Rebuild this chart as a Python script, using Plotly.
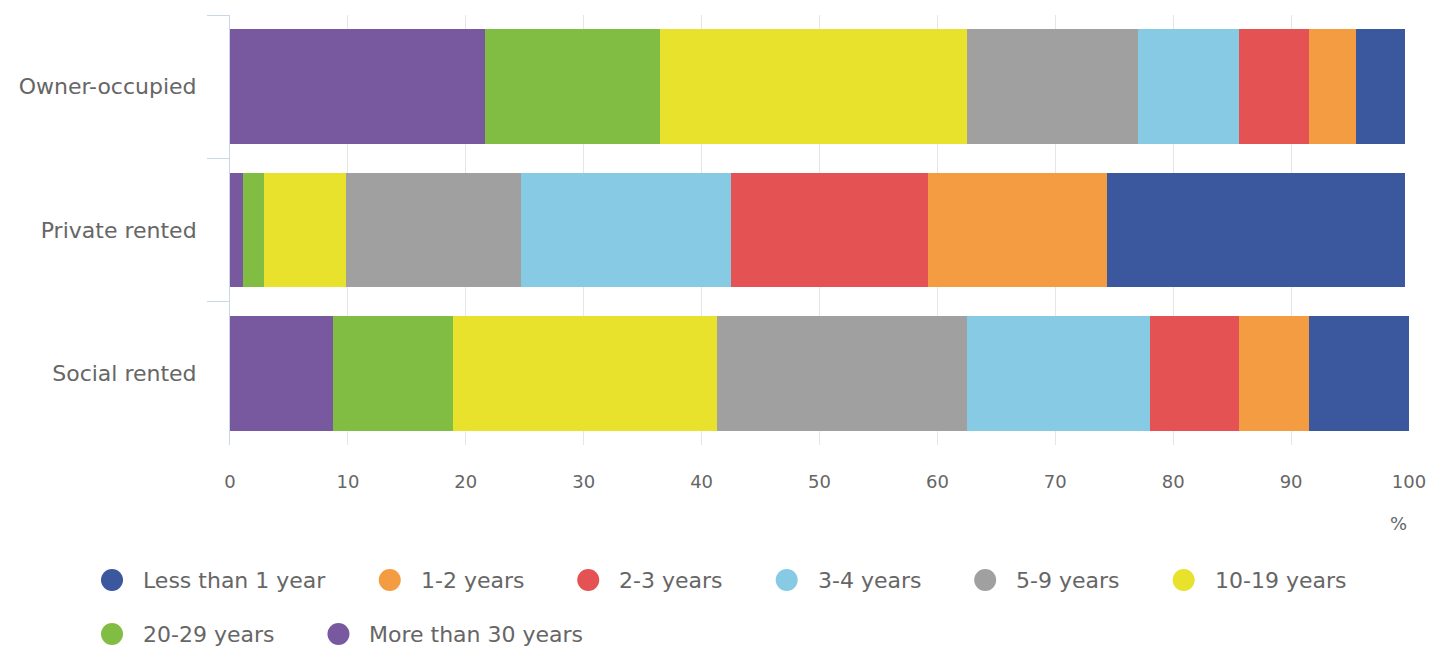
import plotly.graph_objects as go

# Tenure categories (top to bottom) and length-of-residence bands
tenures = ["Owner-occupied", "Private rented", "Social rented"]

series_names = [
    "More than 30 years",
    "20-29 years",
    "10-19 years",
    "5-9 years",
    "3-4 years",
    "2-3 years",
    "1-2 years",
    "Less than 1 year",
]

more_than_30 = [21.6, 1.1, 8.7]
years_20_29 = [14.9, 1.8, 10.2]
years_10_19 = [26.0, 6.9, 22.4]
years_5_9 = [14.5, 14.9, 21.2]
years_3_4 = [8.6, 17.8, 15.5]
years_2_3 = [5.9, 16.7, 7.6]
years_1_2 = [4.0, 15.2, 5.9]
less_than_1 = [4.2, 25.3, 8.5]

series_values = [
    more_than_30, years_20_29, years_10_19, years_5_9,
    years_3_4, years_2_3, years_1_2, less_than_1,
]

colors = {
    "Less than 1 year": "#3b579d",
    "1-2 years": "#f39c42",
    "2-3 years": "#e55253",
    "3-4 years": "#86cbe3",
    "5-9 years": "#a0a0a0",
    "10-19 years": "#e8e22c",
    "20-29 years": "#82bd43",
    "More than 30 years": "#7859a0",
}

legend_rows = [
    ["Less than 1 year", "1-2 years", "2-3 years", "3-4 years",
     "5-9 years", "10-19 years"],
    ["20-29 years", "More than 30 years"],
]

x_ticks = list(range(0, 101, 10))

W, H = 1434, 654
ML, MR, MT, MB = 230, 25, 15, 209
PW, PH = W - ML - MR, H - MT - MB

FONT = "DejaVu Sans"
TXT = "#666666"
LABEL_SIZE = 22
TICK_SIZE = 18

# Legend layout in pixels
LEG_ROW_Y = [580, 634]
LEG_LEFT = 101
LEG_D = 22          # marker diameter
LEG_TEXT_OFF = 40   # marker left edge to text start
LEG_GAP = 55        # text end to next marker

# DejaVu Sans advance widths (units per 2048 em) for text measuring
_ADV = {" ": 651, "-": 739, "L": 1141, "M": 1767, "a": 1255, "e": 1260,
        "h": 1298, "n": 1298, "o": 1253, "r": 842, "s": 1067, "t": 803,
        "y": 1212}


def text_width(s, size):
    return sum(_ADV.get(c, 1303) for c in s) / 2048 * size


fig = go.Figure()
for name, vals in zip(series_names, series_values):
    fig.add_trace(go.Bar(
        y=tenures, x=vals, orientation="h", name=name,
        marker=dict(color=colors[name], line=dict(width=0)),
        showlegend=False,
    ))


def px_x(px):
    return (px - ML) / PW


def px_y(py):
    return (H - MB - py) / PH


shapes = []
annotations = []
for row, cy in zip(legend_rows, LEG_ROW_Y):
    x = LEG_LEFT
    for name in row:
        shapes.append(dict(
            type="circle", xref="paper", yref="paper",
            x0=px_x(x), x1=px_x(x + LEG_D),
            y0=px_y(cy + LEG_D / 2), y1=px_y(cy - LEG_D / 2),
            fillcolor=colors[name], line=dict(width=0),
        ))
        annotations.append(dict(
            text=name, xref="paper", yref="paper",
            x=px_x(x + LEG_TEXT_OFF), y=px_y(cy), xanchor="left", yanchor="middle",
            showarrow=False, font=dict(family=FONT, size=LABEL_SIZE, color=TXT),
        ))
        x += LEG_TEXT_OFF + text_width(name, LABEL_SIZE) + LEG_GAP

annotations.append(dict(
    text="%", xref="paper", yref="paper", x=px_x(1398), y=px_y(523),
    xanchor="center", yanchor="middle", showarrow=False,
    font=dict(family=FONT, size=TICK_SIZE, color=TXT),
))

fig.update_layout(
    template="none",
    barmode="stack",
    bargap=0.2,
    width=W, height=H,
    margin=dict(l=ML, r=MR, t=MT, b=MB, pad=0),
    paper_bgcolor="white",
    plot_bgcolor="white",
    font=dict(family=FONT, color=TXT),
    shapes=shapes,
    annotations=annotations,
    xaxis=dict(
        range=[0, 100],
        tickvals=x_ticks,
        automargin=False,
        showgrid=True, gridcolor="#e6e6e6", gridwidth=1,
        zeroline=False, showline=False,
        ticks="outside", ticklen=20, tickcolor="rgba(0,0,0,0)",
        tickfont=dict(family=FONT, size=TICK_SIZE, color=TXT),
        fixedrange=True,
    ),
    yaxis=dict(
        categoryorder="array", categoryarray=tenures,
        autorange="reversed",
        automargin=False,
        showline=True, linecolor="#ccd6eb", linewidth=1,
        ticks="outside", tickson="boundaries", ticklen=22,
        tickcolor="#ccd6eb", tickwidth=1,
        ticklabelstandoff=28,
        showgrid=False, zeroline=False,
        tickfont=dict(family=FONT, size=LABEL_SIZE, color=TXT),
        fixedrange=True,
    ),
)

fig.write_html("out.html")
